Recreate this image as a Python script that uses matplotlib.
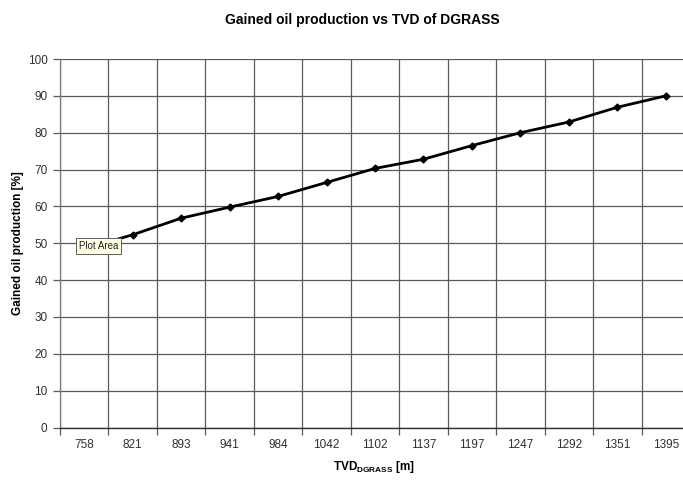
import numpy as np
import matplotlib
matplotlib.use("Agg")
from matplotlib import pyplot as plt

plt.rcParams['font.family'] = ['Liberation Sans', 'DejaVu Sans']
plt.rcParams['mathtext.fontset'] = 'custom'
plt.rcParams['mathtext.rm'] = 'Liberation Sans'
plt.rcParams['mathtext.bf'] = 'Liberation Sans:bold'

# TVD of DGRASS categories and gained oil production [%]
tvd = ['758', '821', '893', '941', '984', '1042', '1102',
       '1137', '1197', '1247', '1292', '1351', '1395']
gain = [48.5, 52.3, 56.8, 59.8, 62.7, 66.5, 70.3,
        72.8, 76.5, 80.0, 82.9, 86.9, 90.0]
yticks = np.arange(0, 101, 10)

W, H = 683, 480
fig = plt.figure(figsize=(W / 100, H / 100), dpi=100)
# plot area runs a little past the right edge of the image
ax = fig.add_axes([60 / W, (H - 427.5) / H, 630 / W, 368.5 / H])

x = np.arange(len(tvd))
ax.plot(x, gain, color='black', lw=2.0, marker='D', ms=3.5, zorder=3)

ax.set_xlim(-0.5, len(tvd) - 0.5)
ax.set_ylim(0, 100)
ax.set_xticks(x)
ax.set_xticklabels(tvd)
ax.set_xticks(np.arange(-0.5, len(tvd), 1.0), minor=True)
ax.set_yticks(yticks)

grid_col = '#5a5a5a'
ax.grid(True, which='minor', axis='x', color=grid_col, lw=0.9)
ax.grid(True, which='major', axis='y', color=grid_col, lw=0.9)
ax.set_axisbelow(True)

ax.tick_params(axis='x', which='major', length=0, pad=8, labelsize=8.5, labelcolor='#303030')
ax.tick_params(axis='x', which='minor', length=5, width=0.9, color=grid_col, direction='out')
ax.tick_params(axis='y', length=5, width=0.9, color=grid_col, pad=4, labelsize=8.5, labelcolor='#303030')

for side in ['top', 'right']:
    ax.spines[side].set_visible(False)
ax.spines['left'].set_color('#7a7a7a')
ax.spines['left'].set_linewidth(0.9)
ax.spines['bottom'].set_color('#303030')
ax.spines['bottom'].set_linewidth(1.0)

fig.text(362 / W, 1 - 20 / H, 'Gained oil production vs TVD of DGRASS',
         ha='center', va='center', fontsize=10, fontweight='bold')
fig.text(374 / W, 1 - 467 / H, r'$\mathbf{TVD_{DGRASS}}$ [m]',
         ha='center', va='center', fontsize=8.5, fontweight='bold')
fig.text(18 / W, 1 - 243 / H, 'Gained oil production [%]', rotation=90,
         ha='center', va='center', fontsize=8.5, fontweight='bold')

# hover tooltip sitting over the plot area
fig.text(79 / W, 1 - 246 / H, 'Plot Area', ha='left', va='center', fontsize=7,
         color='#202020', zorder=10,
         bbox=dict(boxstyle='square,pad=0.3', fc='#ffffe1', ec='#606060', lw=0.7))

fig.savefig('out.png', dpi=100)
